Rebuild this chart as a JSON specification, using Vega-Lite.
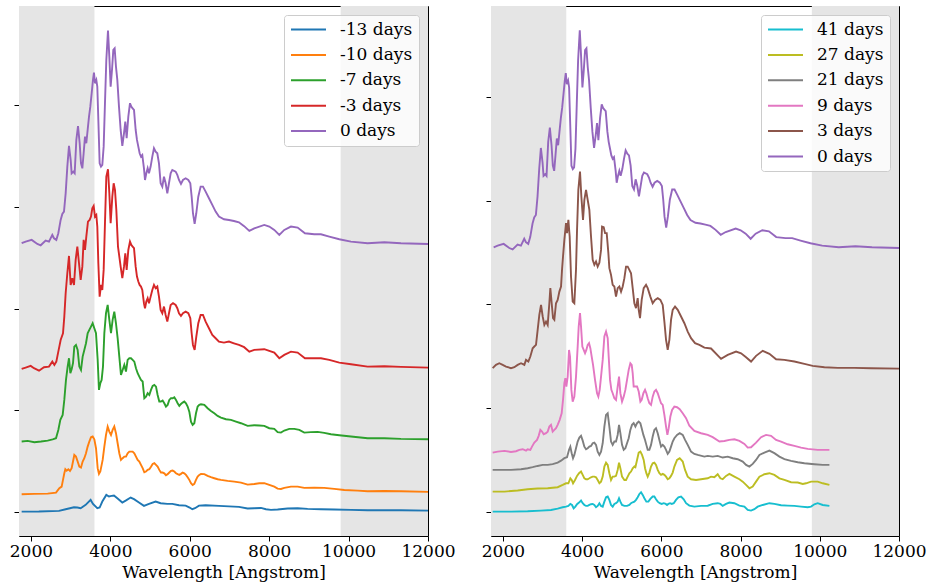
{
"$schema": "https://vega.github.io/schema/vega-lite/v6.json",
"background": "white",
"padding": {"left": 8, "top": 5, "right": 5, "bottom": 5},
"bounds": "flush",
"spacing": 63,
"datasets": {
"bands": [{"a": 1700, "b": 3600}, {"a": 9800, "b": 12000}],
"left": [
{"s":"0 days","w":1767,"f":2.642},{"s":"0 days","w":1868,"f":2.658},{"s":"0 days","w":2019,"f":2.675},{"s":"0 days","w":2162,"f":2.635},{"s":"0 days","w":2246,"f":2.622},{"s":"0 days","w":2371,"f":2.668},{"s":"0 days","w":2455,"f":2.658},{"s":"0 days","w":2539,"f":2.724},{"s":"0 days","w":2581,"f":2.691},{"s":"0 days","w":2640,"f":2.675},{"s":"0 days","w":2690,"f":2.740},{"s":"0 days","w":2749,"f":2.871},{"s":"0 days","w":2791,"f":2.930},{"s":"0 days","w":2833,"f":2.953},{"s":"0 days","w":2875,"f":3.133},{"s":"0 days","w":2917,"f":3.396},{"s":"0 days","w":2959,"f":3.599},{"s":"0 days","w":3001,"f":3.461},{"s":"0 days","w":3026,"f":3.330},{"s":"0 days","w":3068,"f":3.346},{"s":"0 days","w":3102,"f":3.330},{"s":"0 days","w":3144,"f":3.658},{"s":"0 days","w":3186,"f":3.795},{"s":"0 days","w":3228,"f":3.625},{"s":"0 days","w":3261,"f":3.428},{"s":"0 days","w":3295,"f":3.379},{"s":"0 days","w":3328,"f":3.527},{"s":"0 days","w":3362,"f":3.690},{"s":"0 days","w":3395,"f":3.625},{"s":"0 days","w":3429,"f":3.756},{"s":"0 days","w":3463,"f":3.887},{"s":"0 days","w":3496,"f":3.985},{"s":"0 days","w":3530,"f":4.117},{"s":"0 days","w":3563,"f":4.248},{"s":"0 days","w":3588,"f":4.320},{"s":"0 days","w":3614,"f":4.215},{"s":"0 days","w":3647,"f":4.248},{"s":"0 days","w":3672,"f":4.182},{"s":"0 days","w":3698,"f":3.854},{"s":"0 days","w":3731,"f":3.428},{"s":"0 days","w":3765,"f":3.396},{"s":"0 days","w":3798,"f":3.412},{"s":"0 days","w":3832,"f":3.592},{"s":"0 days","w":3865,"f":4.019},{"s":"0 days","w":3899,"f":4.444},{"s":"0 days","w":3941,"f":4.733},{"s":"0 days","w":3975,"f":4.477},{"s":"0 days","w":4008,"f":4.182},{"s":"0 days","w":4042,"f":4.346},{"s":"0 days","w":4075,"f":4.543},{"s":"0 days","w":4109,"f":4.559},{"s":"0 days","w":4142,"f":4.379},{"s":"0 days","w":4176,"f":4.248},{"s":"0 days","w":4218,"f":3.985},{"s":"0 days","w":4260,"f":3.756},{"s":"0 days","w":4302,"f":3.599},{"s":"0 days","w":4344,"f":3.723},{"s":"0 days","w":4377,"f":3.838},{"s":"0 days","w":4411,"f":3.674},{"s":"0 days","w":4453,"f":3.887},{"s":"0 days","w":4495,"f":4.019},{"s":"0 days","w":4528,"f":3.985},{"s":"0 days","w":4562,"f":3.969},{"s":"0 days","w":4596,"f":3.953},{"s":"0 days","w":4638,"f":3.756},{"s":"0 days","w":4671,"f":3.658},{"s":"0 days","w":4705,"f":3.592},{"s":"0 days","w":4738,"f":3.527},{"s":"0 days","w":4772,"f":3.494},{"s":"0 days","w":4805,"f":3.510},{"s":"0 days","w":4847,"f":3.379},{"s":"0 days","w":4873,"f":3.264},{"s":"0 days","w":4906,"f":3.330},{"s":"0 days","w":4940,"f":3.379},{"s":"0 days","w":4973,"f":3.330},{"s":"0 days","w":5015,"f":3.396},{"s":"0 days","w":5057,"f":3.494},{"s":"0 days","w":5099,"f":3.576},{"s":"0 days","w":5141,"f":3.543},{"s":"0 days","w":5183,"f":3.527},{"s":"0 days","w":5225,"f":3.428},{"s":"0 days","w":5267,"f":3.232},{"s":"0 days","w":5309,"f":3.199},{"s":"0 days","w":5351,"f":3.297},{"s":"0 days","w":5393,"f":3.232},{"s":"0 days","w":5435,"f":3.133},{"s":"0 days","w":5477,"f":3.232},{"s":"0 days","w":5519,"f":3.330},{"s":"0 days","w":5561,"f":3.363},{"s":"0 days","w":5645,"f":3.346},{"s":"0 days","w":5687,"f":3.314},{"s":"0 days","w":5729,"f":3.264},{"s":"0 days","w":5779,"f":3.225},{"s":"0 days","w":5829,"f":3.264},{"s":"0 days","w":5897,"f":3.281},{"s":"0 days","w":5964,"f":3.264},{"s":"0 days","w":6014,"f":3.232},{"s":"0 days","w":6048,"f":3.100},{"s":"0 days","w":6081,"f":2.937},{"s":"0 days","w":6123,"f":2.832},{"s":"0 days","w":6165,"f":2.937},{"s":"0 days","w":6215,"f":3.100},{"s":"0 days","w":6274,"f":3.199},{"s":"0 days","w":6333,"f":3.199},{"s":"0 days","w":6400,"f":3.150},{"s":"0 days","w":6484,"f":3.084},{"s":"0 days","w":6568,"f":3.019},{"s":"0 days","w":6652,"f":2.953},{"s":"0 days","w":6736,"f":2.904},{"s":"0 days","w":6862,"f":2.878},{"s":"0 days","w":6988,"f":2.871},{"s":"0 days","w":7113,"f":2.861},{"s":"0 days","w":7239,"f":2.848},{"s":"0 days","w":7370,"f":2.810},{"s":"0 days","w":7500,"f":2.763},{"s":"0 days","w":7625,"f":2.789},{"s":"0 days","w":7877,"f":2.822},{"s":"0 days","w":8003,"f":2.806},{"s":"0 days","w":8129,"f":2.773},{"s":"0 days","w":8255,"f":2.724},{"s":"0 days","w":8381,"f":2.773},{"s":"0 days","w":8549,"f":2.806},{"s":"0 days","w":8717,"f":2.796},{"s":"0 days","w":8901,"f":2.740},{"s":"0 days","w":9136,"f":2.730},{"s":"0 days","w":9304,"f":2.730},{"s":"0 days","w":9514,"f":2.707},{"s":"0 days","w":9766,"f":2.681},{"s":"0 days","w":10060,"f":2.658},{"s":"0 days","w":10479,"f":2.642},{"s":"0 days","w":10899,"f":2.652},{"s":"0 days","w":11319,"f":2.642},{"s":"0 days","w":12000,"f":2.635},
{"s":"-3 days","w":1767,"f":1.406},{"s":"-3 days","w":1868,"f":1.419},{"s":"-3 days","w":1994,"f":1.436},{"s":"-3 days","w":2078,"f":1.413},{"s":"-3 days","w":2204,"f":1.389},{"s":"-3 days","w":2329,"f":1.423},{"s":"-3 days","w":2455,"f":1.429},{"s":"-3 days","w":2539,"f":1.478},{"s":"-3 days","w":2590,"f":1.445},{"s":"-3 days","w":2640,"f":1.478},{"s":"-3 days","w":2690,"f":1.576},{"s":"-3 days","w":2749,"f":1.691},{"s":"-3 days","w":2808,"f":1.757},{"s":"-3 days","w":2841,"f":1.920},{"s":"-3 days","w":2875,"f":2.150},{"s":"-3 days","w":2917,"f":2.347},{"s":"-3 days","w":2959,"f":2.517},{"s":"-3 days","w":3001,"f":2.232},{"s":"-3 days","w":3043,"f":2.298},{"s":"-3 days","w":3085,"f":2.232},{"s":"-3 days","w":3127,"f":2.478},{"s":"-3 days","w":3169,"f":2.609},{"s":"-3 days","w":3211,"f":2.445},{"s":"-3 days","w":3253,"f":2.281},{"s":"-3 days","w":3295,"f":2.412},{"s":"-3 days","w":3328,"f":2.675},{"s":"-3 days","w":3362,"f":2.576},{"s":"-3 days","w":3395,"f":2.707},{"s":"-3 days","w":3437,"f":2.855},{"s":"-3 days","w":3479,"f":2.871},{"s":"-3 days","w":3513,"f":2.904},{"s":"-3 days","w":3546,"f":2.986},{"s":"-3 days","w":3580,"f":3.009},{"s":"-3 days","w":3614,"f":2.904},{"s":"-3 days","w":3647,"f":2.920},{"s":"-3 days","w":3672,"f":2.806},{"s":"-3 days","w":3698,"f":2.445},{"s":"-3 days","w":3731,"f":2.117},{"s":"-3 days","w":3765,"f":2.232},{"s":"-3 days","w":3798,"f":2.183},{"s":"-3 days","w":3832,"f":2.380},{"s":"-3 days","w":3865,"f":2.839},{"s":"-3 days","w":3899,"f":3.297},{"s":"-3 days","w":3941,"f":3.370},{"s":"-3 days","w":3975,"f":3.133},{"s":"-3 days","w":4008,"f":2.839},{"s":"-3 days","w":4050,"f":3.100},{"s":"-3 days","w":4084,"f":3.232},{"s":"-3 days","w":4117,"f":3.166},{"s":"-3 days","w":4151,"f":2.970},{"s":"-3 days","w":4193,"f":2.609},{"s":"-3 days","w":4260,"f":2.412},{"s":"-3 days","w":4302,"f":2.298},{"s":"-3 days","w":4344,"f":2.412},{"s":"-3 days","w":4377,"f":2.543},{"s":"-3 days","w":4411,"f":2.380},{"s":"-3 days","w":4453,"f":2.576},{"s":"-3 days","w":4495,"f":2.658},{"s":"-3 days","w":4528,"f":2.625},{"s":"-3 days","w":4562,"f":2.609},{"s":"-3 days","w":4596,"f":2.593},{"s":"-3 days","w":4638,"f":2.412},{"s":"-3 days","w":4671,"f":2.314},{"s":"-3 days","w":4705,"f":2.265},{"s":"-3 days","w":4738,"f":2.232},{"s":"-3 days","w":4772,"f":2.216},{"s":"-3 days","w":4805,"f":2.183},{"s":"-3 days","w":4847,"f":2.052},{"s":"-3 days","w":4873,"f":2.003},{"s":"-3 days","w":4906,"f":2.068},{"s":"-3 days","w":4940,"f":2.101},{"s":"-3 days","w":4973,"f":2.052},{"s":"-3 days","w":5015,"f":2.117},{"s":"-3 days","w":5057,"f":2.183},{"s":"-3 days","w":5099,"f":2.232},{"s":"-3 days","w":5141,"f":2.200},{"s":"-3 days","w":5183,"f":2.216},{"s":"-3 days","w":5225,"f":2.117},{"s":"-3 days","w":5267,"f":1.986},{"s":"-3 days","w":5309,"f":1.954},{"s":"-3 days","w":5351,"f":2.019},{"s":"-3 days","w":5393,"f":1.937},{"s":"-3 days","w":5435,"f":1.871},{"s":"-3 days","w":5477,"f":1.954},{"s":"-3 days","w":5519,"f":2.035},{"s":"-3 days","w":5578,"f":2.052},{"s":"-3 days","w":5645,"f":2.035},{"s":"-3 days","w":5687,"f":2.003},{"s":"-3 days","w":5729,"f":1.954},{"s":"-3 days","w":5779,"f":1.927},{"s":"-3 days","w":5829,"f":1.954},{"s":"-3 days","w":5897,"f":1.970},{"s":"-3 days","w":5964,"f":1.954},{"s":"-3 days","w":6014,"f":1.905},{"s":"-3 days","w":6048,"f":1.757},{"s":"-3 days","w":6081,"f":1.642},{"s":"-3 days","w":6123,"f":1.593},{"s":"-3 days","w":6165,"f":1.724},{"s":"-3 days","w":6215,"f":1.855},{"s":"-3 days","w":6274,"f":1.937},{"s":"-3 days","w":6333,"f":1.937},{"s":"-3 days","w":6400,"f":1.871},{"s":"-3 days","w":6484,"f":1.806},{"s":"-3 days","w":6568,"f":1.740},{"s":"-3 days","w":6652,"f":1.708},{"s":"-3 days","w":6736,"f":1.675},{"s":"-3 days","w":6862,"f":1.665},{"s":"-3 days","w":6988,"f":1.675},{"s":"-3 days","w":7113,"f":1.658},{"s":"-3 days","w":7239,"f":1.642},{"s":"-3 days","w":7370,"f":1.620},{"s":"-3 days","w":7500,"f":1.576},{"s":"-3 days","w":7625,"f":1.593},{"s":"-3 days","w":7877,"f":1.600},{"s":"-3 days","w":8003,"f":1.583},{"s":"-3 days","w":8129,"f":1.567},{"s":"-3 days","w":8255,"f":1.511},{"s":"-3 days","w":8381,"f":1.544},{"s":"-3 days","w":8549,"f":1.576},{"s":"-3 days","w":8717,"f":1.567},{"s":"-3 days","w":8901,"f":1.511},{"s":"-3 days","w":9136,"f":1.511},{"s":"-3 days","w":9304,"f":1.511},{"s":"-3 days","w":9514,"f":1.495},{"s":"-3 days","w":9766,"f":1.468},{"s":"-3 days","w":10060,"f":1.452},{"s":"-3 days","w":10479,"f":1.429},{"s":"-3 days","w":10899,"f":1.432},{"s":"-3 days","w":11319,"f":1.426},{"s":"-3 days","w":12000,"f":1.419},
{"s":"-7 days","w":1767,"f":0.692},{"s":"-7 days","w":1918,"f":0.698},{"s":"-7 days","w":2086,"f":0.685},{"s":"-7 days","w":2254,"f":0.692},{"s":"-7 days","w":2422,"f":0.701},{"s":"-7 days","w":2548,"f":0.714},{"s":"-7 days","w":2632,"f":0.724},{"s":"-7 days","w":2690,"f":0.806},{"s":"-7 days","w":2741,"f":0.905},{"s":"-7 days","w":2800,"f":0.954},{"s":"-7 days","w":2841,"f":1.101},{"s":"-7 days","w":2883,"f":1.298},{"s":"-7 days","w":2925,"f":1.429},{"s":"-7 days","w":2959,"f":1.511},{"s":"-7 days","w":2993,"f":1.364},{"s":"-7 days","w":3026,"f":1.403},{"s":"-7 days","w":3060,"f":1.462},{"s":"-7 days","w":3093,"f":1.625},{"s":"-7 days","w":3135,"f":1.642},{"s":"-7 days","w":3177,"f":1.593},{"s":"-7 days","w":3219,"f":1.429},{"s":"-7 days","w":3261,"f":1.396},{"s":"-7 days","w":3303,"f":1.527},{"s":"-7 days","w":3345,"f":1.593},{"s":"-7 days","w":3387,"f":1.659},{"s":"-7 days","w":3429,"f":1.757},{"s":"-7 days","w":3471,"f":1.790},{"s":"-7 days","w":3513,"f":1.822},{"s":"-7 days","w":3555,"f":1.855},{"s":"-7 days","w":3597,"f":1.806},{"s":"-7 days","w":3639,"f":1.757},{"s":"-7 days","w":3681,"f":1.495},{"s":"-7 days","w":3714,"f":1.200},{"s":"-7 days","w":3748,"f":1.265},{"s":"-7 days","w":3781,"f":1.298},{"s":"-7 days","w":3815,"f":1.429},{"s":"-7 days","w":3849,"f":1.757},{"s":"-7 days","w":3891,"f":1.954},{"s":"-7 days","w":3933,"f":2.035},{"s":"-7 days","w":3975,"f":1.888},{"s":"-7 days","w":4017,"f":1.757},{"s":"-7 days","w":4058,"f":1.888},{"s":"-7 days","w":4100,"f":1.970},{"s":"-7 days","w":4142,"f":1.855},{"s":"-7 days","w":4184,"f":1.708},{"s":"-7 days","w":4226,"f":1.527},{"s":"-7 days","w":4268,"f":1.347},{"s":"-7 days","w":4310,"f":1.396},{"s":"-7 days","w":4352,"f":1.445},{"s":"-7 days","w":4394,"f":1.380},{"s":"-7 days","w":4436,"f":1.495},{"s":"-7 days","w":4478,"f":1.511},{"s":"-7 days","w":4520,"f":1.511},{"s":"-7 days","w":4562,"f":1.495},{"s":"-7 days","w":4604,"f":1.478},{"s":"-7 days","w":4646,"f":1.413},{"s":"-7 days","w":4688,"f":1.364},{"s":"-7 days","w":4730,"f":1.331},{"s":"-7 days","w":4772,"f":1.298},{"s":"-7 days","w":4814,"f":1.282},{"s":"-7 days","w":4856,"f":1.118},{"s":"-7 days","w":4898,"f":1.134},{"s":"-7 days","w":4940,"f":1.167},{"s":"-7 days","w":4982,"f":1.150},{"s":"-7 days","w":5024,"f":1.200},{"s":"-7 days","w":5066,"f":1.239},{"s":"-7 days","w":5108,"f":1.249},{"s":"-7 days","w":5150,"f":1.232},{"s":"-7 days","w":5191,"f":1.150},{"s":"-7 days","w":5233,"f":1.085},{"s":"-7 days","w":5275,"f":1.085},{"s":"-7 days","w":5317,"f":1.095},{"s":"-7 days","w":5359,"f":1.068},{"s":"-7 days","w":5401,"f":1.036},{"s":"-7 days","w":5443,"f":1.052},{"s":"-7 days","w":5485,"f":1.101},{"s":"-7 days","w":5527,"f":1.118},{"s":"-7 days","w":5569,"f":1.118},{"s":"-7 days","w":5611,"f":1.127},{"s":"-7 days","w":5653,"f":1.101},{"s":"-7 days","w":5695,"f":1.068},{"s":"-7 days","w":5737,"f":1.042},{"s":"-7 days","w":5779,"f":1.062},{"s":"-7 days","w":5821,"f":1.075},{"s":"-7 days","w":5863,"f":1.085},{"s":"-7 days","w":5905,"f":1.068},{"s":"-7 days","w":5947,"f":1.036},{"s":"-7 days","w":5989,"f":0.986},{"s":"-7 days","w":6031,"f":0.888},{"s":"-7 days","w":6073,"f":0.855},{"s":"-7 days","w":6115,"f":0.872},{"s":"-7 days","w":6157,"f":0.970},{"s":"-7 days","w":6199,"f":1.036},{"s":"-7 days","w":6241,"f":1.052},{"s":"-7 days","w":6283,"f":1.059},{"s":"-7 days","w":6367,"f":1.052},{"s":"-7 days","w":6450,"f":1.019},{"s":"-7 days","w":6534,"f":0.993},{"s":"-7 days","w":6618,"f":0.970},{"s":"-7 days","w":6702,"f":0.944},{"s":"-7 days","w":6786,"f":0.928},{"s":"-7 days","w":6912,"f":0.911},{"s":"-7 days","w":7038,"f":0.905},{"s":"-7 days","w":7164,"f":0.888},{"s":"-7 days","w":7290,"f":0.872},{"s":"-7 days","w":7458,"f":0.846},{"s":"-7 days","w":7625,"f":0.852},{"s":"-7 days","w":7751,"f":0.849},{"s":"-7 days","w":7877,"f":0.846},{"s":"-7 days","w":8003,"f":0.823},{"s":"-7 days","w":8129,"f":0.816},{"s":"-7 days","w":8213,"f":0.784},{"s":"-7 days","w":8297,"f":0.780},{"s":"-7 days","w":8381,"f":0.800},{"s":"-7 days","w":8507,"f":0.816},{"s":"-7 days","w":8633,"f":0.816},{"s":"-7 days","w":8759,"f":0.806},{"s":"-7 days","w":8884,"f":0.780},{"s":"-7 days","w":9052,"f":0.784},{"s":"-7 days","w":9220,"f":0.787},{"s":"-7 days","w":9388,"f":0.777},{"s":"-7 days","w":9556,"f":0.764},{"s":"-7 days","w":9766,"f":0.754},{"s":"-7 days","w":10060,"f":0.741},{"s":"-7 days","w":10479,"f":0.724},{"s":"-7 days","w":10899,"f":0.724},{"s":"-7 days","w":11319,"f":0.718},{"s":"-7 days","w":12000,"f":0.715},
{"s":"-10 days","w":1767,"f":0.174},{"s":"-10 days","w":2086,"f":0.177},{"s":"-10 days","w":2422,"f":0.180},{"s":"-10 days","w":2632,"f":0.190},{"s":"-10 days","w":2716,"f":0.233},{"s":"-10 days","w":2774,"f":0.249},{"s":"-10 days","w":2808,"f":0.315},{"s":"-10 days","w":2841,"f":0.380},{"s":"-10 days","w":2867,"f":0.420},{"s":"-10 days","w":2900,"f":0.406},{"s":"-10 days","w":2942,"f":0.420},{"s":"-10 days","w":2984,"f":0.403},{"s":"-10 days","w":3026,"f":0.430},{"s":"-10 days","w":3060,"f":0.495},{"s":"-10 days","w":3093,"f":0.560},{"s":"-10 days","w":3135,"f":0.544},{"s":"-10 days","w":3177,"f":0.495},{"s":"-10 days","w":3219,"f":0.445},{"s":"-10 days","w":3261,"f":0.436},{"s":"-10 days","w":3303,"f":0.495},{"s":"-10 days","w":3345,"f":0.528},{"s":"-10 days","w":3387,"f":0.577},{"s":"-10 days","w":3429,"f":0.642},{"s":"-10 days","w":3471,"f":0.692},{"s":"-10 days","w":3513,"f":0.734},{"s":"-10 days","w":3555,"f":0.741},{"s":"-10 days","w":3597,"f":0.714},{"s":"-10 days","w":3639,"f":0.626},{"s":"-10 days","w":3681,"f":0.430},{"s":"-10 days","w":3714,"f":0.374},{"s":"-10 days","w":3748,"f":0.397},{"s":"-10 days","w":3807,"f":0.511},{"s":"-10 days","w":3849,"f":0.642},{"s":"-10 days","w":3891,"f":0.757},{"s":"-10 days","w":3933,"f":0.839},{"s":"-10 days","w":3975,"f":0.790},{"s":"-10 days","w":4017,"f":0.757},{"s":"-10 days","w":4058,"f":0.806},{"s":"-10 days","w":4100,"f":0.839},{"s":"-10 days","w":4142,"f":0.774},{"s":"-10 days","w":4184,"f":0.675},{"s":"-10 days","w":4226,"f":0.577},{"s":"-10 days","w":4268,"f":0.511},{"s":"-10 days","w":4310,"f":0.528},{"s":"-10 days","w":4352,"f":0.544},{"s":"-10 days","w":4394,"f":0.544},{"s":"-10 days","w":4436,"f":0.577},{"s":"-10 days","w":4478,"f":0.593},{"s":"-10 days","w":4520,"f":0.593},{"s":"-10 days","w":4562,"f":0.593},{"s":"-10 days","w":4604,"f":0.577},{"s":"-10 days","w":4646,"f":0.544},{"s":"-10 days","w":4688,"f":0.511},{"s":"-10 days","w":4730,"f":0.495},{"s":"-10 days","w":4772,"f":0.462},{"s":"-10 days","w":4814,"f":0.430},{"s":"-10 days","w":4856,"f":0.390},{"s":"-10 days","w":4898,"f":0.397},{"s":"-10 days","w":4940,"f":0.413},{"s":"-10 days","w":4982,"f":0.420},{"s":"-10 days","w":5024,"f":0.445},{"s":"-10 days","w":5066,"f":0.472},{"s":"-10 days","w":5108,"f":0.479},{"s":"-10 days","w":5150,"f":0.462},{"s":"-10 days","w":5191,"f":0.445},{"s":"-10 days","w":5233,"f":0.413},{"s":"-10 days","w":5275,"f":0.387},{"s":"-10 days","w":5317,"f":0.387},{"s":"-10 days","w":5359,"f":0.380},{"s":"-10 days","w":5401,"f":0.361},{"s":"-10 days","w":5443,"f":0.371},{"s":"-10 days","w":5485,"f":0.387},{"s":"-10 days","w":5527,"f":0.403},{"s":"-10 days","w":5569,"f":0.406},{"s":"-10 days","w":5611,"f":0.397},{"s":"-10 days","w":5653,"f":0.380},{"s":"-10 days","w":5695,"f":0.371},{"s":"-10 days","w":5737,"f":0.364},{"s":"-10 days","w":5779,"f":0.374},{"s":"-10 days","w":5821,"f":0.387},{"s":"-10 days","w":5863,"f":0.380},{"s":"-10 days","w":5905,"f":0.364},{"s":"-10 days","w":5947,"f":0.341},{"s":"-10 days","w":5989,"f":0.315},{"s":"-10 days","w":6031,"f":0.282},{"s":"-10 days","w":6073,"f":0.265},{"s":"-10 days","w":6115,"f":0.275},{"s":"-10 days","w":6157,"f":0.315},{"s":"-10 days","w":6199,"f":0.347},{"s":"-10 days","w":6241,"f":0.364},{"s":"-10 days","w":6283,"f":0.374},{"s":"-10 days","w":6367,"f":0.371},{"s":"-10 days","w":6450,"f":0.354},{"s":"-10 days","w":6534,"f":0.341},{"s":"-10 days","w":6618,"f":0.331},{"s":"-10 days","w":6702,"f":0.321},{"s":"-10 days","w":6786,"f":0.315},{"s":"-10 days","w":6954,"f":0.305},{"s":"-10 days","w":7122,"f":0.298},{"s":"-10 days","w":7290,"f":0.288},{"s":"-10 days","w":7458,"f":0.268},{"s":"-10 days","w":7625,"f":0.275},{"s":"-10 days","w":7751,"f":0.282},{"s":"-10 days","w":7877,"f":0.282},{"s":"-10 days","w":8003,"f":0.265},{"s":"-10 days","w":8129,"f":0.249},{"s":"-10 days","w":8213,"f":0.229},{"s":"-10 days","w":8297,"f":0.226},{"s":"-10 days","w":8381,"f":0.236},{"s":"-10 days","w":8549,"f":0.249},{"s":"-10 days","w":8717,"f":0.249},{"s":"-10 days","w":8884,"f":0.236},{"s":"-10 days","w":9136,"f":0.239},{"s":"-10 days","w":9388,"f":0.236},{"s":"-10 days","w":9640,"f":0.226},{"s":"-10 days","w":9892,"f":0.216},{"s":"-10 days","w":10227,"f":0.209},{"s":"-10 days","w":10479,"f":0.203},{"s":"-10 days","w":10899,"f":0.206},{"s":"-10 days","w":11319,"f":0.203},{"s":"-10 days","w":12000,"f":0.197},
{"s":"-13 days","w":1767,"f":0.003},{"s":"-13 days","w":2200,"f":0.004},{"s":"-13 days","w":2707,"f":0.010},{"s":"-13 days","w":2875,"f":0.026},{"s":"-13 days","w":3085,"f":0.046},{"s":"-13 days","w":3169,"f":0.043},{"s":"-13 days","w":3253,"f":0.036},{"s":"-13 days","w":3379,"f":0.069},{"s":"-13 days","w":3504,"f":0.118},{"s":"-13 days","w":3563,"f":0.079},{"s":"-13 days","w":3672,"f":0.036},{"s":"-13 days","w":3731,"f":0.043},{"s":"-13 days","w":3798,"f":0.102},{"s":"-13 days","w":3899,"f":0.167},{"s":"-13 days","w":3966,"f":0.151},{"s":"-13 days","w":4033,"f":0.157},{"s":"-13 days","w":4092,"f":0.161},{"s":"-13 days","w":4176,"f":0.134},{"s":"-13 days","w":4302,"f":0.092},{"s":"-13 days","w":4386,"f":0.111},{"s":"-13 days","w":4512,"f":0.141},{"s":"-13 days","w":4596,"f":0.125},{"s":"-13 days","w":4721,"f":0.092},{"s":"-13 days","w":4847,"f":0.059},{"s":"-13 days","w":4973,"f":0.079},{"s":"-13 days","w":5141,"f":0.102},{"s":"-13 days","w":5267,"f":0.085},{"s":"-13 days","w":5435,"f":0.079},{"s":"-13 days","w":5561,"f":0.079},{"s":"-13 days","w":5729,"f":0.066},{"s":"-13 days","w":5897,"f":0.062},{"s":"-13 days","w":5997,"f":0.043},{"s":"-13 days","w":6064,"f":0.026},{"s":"-13 days","w":6132,"f":0.036},{"s":"-13 days","w":6232,"f":0.062},{"s":"-13 days","w":6400,"f":0.066},{"s":"-13 days","w":6736,"f":0.059},{"s":"-13 days","w":7239,"f":0.049},{"s":"-13 days","w":7458,"f":0.033},{"s":"-13 days","w":7625,"f":0.036},{"s":"-13 days","w":7793,"f":0.039},{"s":"-13 days","w":7919,"f":0.026},{"s":"-13 days","w":8045,"f":0.020},{"s":"-13 days","w":8213,"f":0.023},{"s":"-13 days","w":8465,"f":0.033},{"s":"-13 days","w":8717,"f":0.036},{"s":"-13 days","w":8968,"f":0.030},{"s":"-13 days","w":9304,"f":0.026},{"s":"-13 days","w":9640,"f":0.023},{"s":"-13 days","w":10060,"f":0.020},{"s":"-13 days","w":10479,"f":0.016},{"s":"-13 days","w":11319,"f":0.016},{"s":"-13 days","w":12000,"f":0.013}
],
"right": [
{"s":"0 days","w":1767,"f":2.550},{"s":"0 days","w":1868,"f":2.566},{"s":"0 days","w":2019,"f":2.583},{"s":"0 days","w":2162,"f":2.543},{"s":"0 days","w":2246,"f":2.530},{"s":"0 days","w":2371,"f":2.576},{"s":"0 days","w":2455,"f":2.566},{"s":"0 days","w":2539,"f":2.632},{"s":"0 days","w":2581,"f":2.599},{"s":"0 days","w":2640,"f":2.583},{"s":"0 days","w":2690,"f":2.648},{"s":"0 days","w":2749,"f":2.779},{"s":"0 days","w":2791,"f":2.838},{"s":"0 days","w":2833,"f":2.861},{"s":"0 days","w":2875,"f":3.041},{"s":"0 days","w":2917,"f":3.304},{"s":"0 days","w":2959,"f":3.507},{"s":"0 days","w":3001,"f":3.369},{"s":"0 days","w":3026,"f":3.238},{"s":"0 days","w":3068,"f":3.254},{"s":"0 days","w":3102,"f":3.238},{"s":"0 days","w":3144,"f":3.566},{"s":"0 days","w":3186,"f":3.703},{"s":"0 days","w":3228,"f":3.533},{"s":"0 days","w":3261,"f":3.336},{"s":"0 days","w":3295,"f":3.287},{"s":"0 days","w":3328,"f":3.435},{"s":"0 days","w":3362,"f":3.598},{"s":"0 days","w":3395,"f":3.533},{"s":"0 days","w":3429,"f":3.664},{"s":"0 days","w":3463,"f":3.795},{"s":"0 days","w":3496,"f":3.893},{"s":"0 days","w":3530,"f":4.025},{"s":"0 days","w":3563,"f":4.156},{"s":"0 days","w":3588,"f":4.228},{"s":"0 days","w":3614,"f":4.123},{"s":"0 days","w":3647,"f":4.156},{"s":"0 days","w":3672,"f":4.090},{"s":"0 days","w":3698,"f":3.762},{"s":"0 days","w":3731,"f":3.336},{"s":"0 days","w":3765,"f":3.304},{"s":"0 days","w":3798,"f":3.320},{"s":"0 days","w":3832,"f":3.500},{"s":"0 days","w":3865,"f":3.927},{"s":"0 days","w":3899,"f":4.352},{"s":"0 days","w":3941,"f":4.641},{"s":"0 days","w":3975,"f":4.385},{"s":"0 days","w":4008,"f":4.090},{"s":"0 days","w":4042,"f":4.254},{"s":"0 days","w":4075,"f":4.451},{"s":"0 days","w":4109,"f":4.467},{"s":"0 days","w":4142,"f":4.287},{"s":"0 days","w":4176,"f":4.156},{"s":"0 days","w":4218,"f":3.893},{"s":"0 days","w":4260,"f":3.664},{"s":"0 days","w":4302,"f":3.507},{"s":"0 days","w":4344,"f":3.631},{"s":"0 days","w":4377,"f":3.746},{"s":"0 days","w":4411,"f":3.582},{"s":"0 days","w":4453,"f":3.795},{"s":"0 days","w":4495,"f":3.927},{"s":"0 days","w":4528,"f":3.893},{"s":"0 days","w":4562,"f":3.877},{"s":"0 days","w":4596,"f":3.861},{"s":"0 days","w":4638,"f":3.664},{"s":"0 days","w":4671,"f":3.566},{"s":"0 days","w":4705,"f":3.500},{"s":"0 days","w":4738,"f":3.435},{"s":"0 days","w":4772,"f":3.402},{"s":"0 days","w":4805,"f":3.418},{"s":"0 days","w":4847,"f":3.287},{"s":"0 days","w":4873,"f":3.172},{"s":"0 days","w":4906,"f":3.238},{"s":"0 days","w":4940,"f":3.287},{"s":"0 days","w":4973,"f":3.238},{"s":"0 days","w":5015,"f":3.304},{"s":"0 days","w":5057,"f":3.402},{"s":"0 days","w":5099,"f":3.484},{"s":"0 days","w":5141,"f":3.451},{"s":"0 days","w":5183,"f":3.435},{"s":"0 days","w":5225,"f":3.336},{"s":"0 days","w":5267,"f":3.140},{"s":"0 days","w":5309,"f":3.107},{"s":"0 days","w":5351,"f":3.205},{"s":"0 days","w":5393,"f":3.140},{"s":"0 days","w":5435,"f":3.041},{"s":"0 days","w":5477,"f":3.140},{"s":"0 days","w":5519,"f":3.238},{"s":"0 days","w":5561,"f":3.271},{"s":"0 days","w":5645,"f":3.254},{"s":"0 days","w":5687,"f":3.222},{"s":"0 days","w":5729,"f":3.172},{"s":"0 days","w":5779,"f":3.133},{"s":"0 days","w":5829,"f":3.172},{"s":"0 days","w":5897,"f":3.189},{"s":"0 days","w":5964,"f":3.172},{"s":"0 days","w":6014,"f":3.140},{"s":"0 days","w":6048,"f":3.008},{"s":"0 days","w":6081,"f":2.845},{"s":"0 days","w":6123,"f":2.740},{"s":"0 days","w":6165,"f":2.845},{"s":"0 days","w":6215,"f":3.008},{"s":"0 days","w":6274,"f":3.107},{"s":"0 days","w":6333,"f":3.107},{"s":"0 days","w":6400,"f":3.058},{"s":"0 days","w":6484,"f":2.992},{"s":"0 days","w":6568,"f":2.927},{"s":"0 days","w":6652,"f":2.861},{"s":"0 days","w":6736,"f":2.812},{"s":"0 days","w":6862,"f":2.786},{"s":"0 days","w":6988,"f":2.779},{"s":"0 days","w":7113,"f":2.769},{"s":"0 days","w":7239,"f":2.756},{"s":"0 days","w":7370,"f":2.718},{"s":"0 days","w":7500,"f":2.671},{"s":"0 days","w":7625,"f":2.697},{"s":"0 days","w":7877,"f":2.730},{"s":"0 days","w":8003,"f":2.714},{"s":"0 days","w":8129,"f":2.681},{"s":"0 days","w":8255,"f":2.632},{"s":"0 days","w":8381,"f":2.681},{"s":"0 days","w":8549,"f":2.714},{"s":"0 days","w":8717,"f":2.704},{"s":"0 days","w":8901,"f":2.648},{"s":"0 days","w":9136,"f":2.638},{"s":"0 days","w":9304,"f":2.638},{"s":"0 days","w":9514,"f":2.615},{"s":"0 days","w":9766,"f":2.589},{"s":"0 days","w":10060,"f":2.566},{"s":"0 days","w":10479,"f":2.550},{"s":"0 days","w":10899,"f":2.560},{"s":"0 days","w":11319,"f":2.550},{"s":"0 days","w":12000,"f":2.543},
{"s":"3 days","w":1742,"f":1.385},{"s":"3 days","w":1826,"f":1.417},{"s":"3 days","w":1910,"f":1.433},{"s":"3 days","w":1995,"f":1.417},{"s":"3 days","w":2079,"f":1.401},{"s":"3 days","w":2205,"f":1.385},{"s":"3 days","w":2289,"f":1.394},{"s":"3 days","w":2373,"f":1.417},{"s":"3 days","w":2458,"f":1.433},{"s":"3 days","w":2542,"f":1.417},{"s":"3 days","w":2584,"f":1.465},{"s":"3 days","w":2643,"f":1.449},{"s":"3 days","w":2693,"f":1.497},{"s":"3 days","w":2752,"f":1.577},{"s":"3 days","w":2794,"f":1.594},{"s":"3 days","w":2836,"f":1.610},{"s":"3 days","w":2878,"f":1.754},{"s":"3 days","w":2920,"f":1.899},{"s":"3 days","w":2963,"f":1.995},{"s":"3 days","w":3005,"f":1.883},{"s":"3 days","w":3047,"f":1.802},{"s":"3 days","w":3089,"f":1.834},{"s":"3 days","w":3131,"f":1.802},{"s":"3 days","w":3173,"f":2.011},{"s":"3 days","w":3198,"f":2.156},{"s":"3 days","w":3232,"f":2.011},{"s":"3 days","w":3266,"f":1.867},{"s":"3 days","w":3299,"f":1.851},{"s":"3 days","w":3341,"f":2.011},{"s":"3 days","w":3383,"f":2.043},{"s":"3 days","w":3426,"f":2.123},{"s":"3 days","w":3468,"f":2.172},{"s":"3 days","w":3493,"f":2.333},{"s":"3 days","w":3518,"f":2.461},{"s":"3 days","w":3552,"f":2.622},{"s":"3 days","w":3594,"f":2.783},{"s":"3 days","w":3619,"f":2.686},{"s":"3 days","w":3653,"f":2.814},{"s":"3 days","w":3686,"f":2.654},{"s":"3 days","w":3720,"f":2.268},{"s":"3 days","w":3762,"f":2.027},{"s":"3 days","w":3804,"f":2.011},{"s":"3 days","w":3846,"f":2.333},{"s":"3 days","w":3872,"f":2.718},{"s":"3 days","w":3905,"f":3.104},{"s":"3 days","w":3947,"f":3.280},{"s":"3 days","w":3981,"f":3.039},{"s":"3 days","w":4023,"f":2.814},{"s":"3 days","w":4057,"f":3.007},{"s":"3 days","w":4099,"f":3.104},{"s":"3 days","w":4141,"f":3.007},{"s":"3 days","w":4183,"f":2.911},{"s":"3 days","w":4225,"f":2.654},{"s":"3 days","w":4267,"f":2.429},{"s":"3 days","w":4309,"f":2.381},{"s":"3 days","w":4351,"f":2.413},{"s":"3 days","w":4393,"f":2.364},{"s":"3 days","w":4436,"f":2.400},{"s":"3 days","w":4478,"f":2.525},{"s":"3 days","w":4503,"f":2.750},{"s":"3 days","w":4545,"f":2.744},{"s":"3 days","w":4579,"f":2.686},{"s":"3 days","w":4621,"f":2.686},{"s":"3 days","w":4663,"f":2.493},{"s":"3 days","w":4688,"f":2.349},{"s":"3 days","w":4730,"f":2.284},{"s":"3 days","w":4772,"f":2.188},{"s":"3 days","w":4814,"f":2.172},{"s":"3 days","w":4856,"f":2.075},{"s":"3 days","w":4898,"f":2.156},{"s":"3 days","w":4941,"f":2.172},{"s":"3 days","w":4983,"f":2.123},{"s":"3 days","w":5025,"f":2.172},{"s":"3 days","w":5067,"f":2.252},{"s":"3 days","w":5109,"f":2.364},{"s":"3 days","w":5151,"f":2.364},{"s":"3 days","w":5193,"f":2.333},{"s":"3 days","w":5235,"f":2.300},{"s":"3 days","w":5277,"f":2.156},{"s":"3 days","w":5319,"f":2.011},{"s":"3 days","w":5361,"f":1.963},{"s":"3 days","w":5403,"f":2.060},{"s":"3 days","w":5429,"f":1.947},{"s":"3 days","w":5462,"f":1.867},{"s":"3 days","w":5504,"f":2.043},{"s":"3 days","w":5555,"f":2.156},{"s":"3 days","w":5614,"f":2.188},{"s":"3 days","w":5656,"f":2.156},{"s":"3 days","w":5723,"f":2.075},{"s":"3 days","w":5782,"f":2.011},{"s":"3 days","w":5841,"f":2.043},{"s":"3 days","w":5909,"f":2.060},{"s":"3 days","w":5976,"f":2.043},{"s":"3 days","w":6035,"f":1.995},{"s":"3 days","w":6077,"f":1.834},{"s":"3 days","w":6119,"f":1.658},{"s":"3 days","w":6161,"f":1.561},{"s":"3 days","w":6203,"f":1.658},{"s":"3 days","w":6245,"f":1.851},{"s":"3 days","w":6287,"f":1.947},{"s":"3 days","w":6346,"f":1.979},{"s":"3 days","w":6414,"f":1.947},{"s":"3 days","w":6498,"f":1.883},{"s":"3 days","w":6582,"f":1.818},{"s":"3 days","w":6666,"f":1.738},{"s":"3 days","w":6750,"f":1.674},{"s":"3 days","w":6851,"f":1.626},{"s":"3 days","w":6961,"f":1.610},{"s":"3 days","w":7087,"f":1.583},{"s":"3 days","w":7255,"f":1.575},{"s":"3 days","w":7508,"f":1.475},{"s":"3 days","w":7676,"f":1.513},{"s":"3 days","w":7887,"f":1.545},{"s":"3 days","w":8013,"f":1.529},{"s":"3 days","w":8139,"f":1.491},{"s":"3 days","w":8265,"f":1.449},{"s":"3 days","w":8392,"f":1.504},{"s":"3 days","w":8560,"f":1.552},{"s":"3 days","w":8728,"f":1.523},{"s":"3 days","w":8897,"f":1.471},{"s":"3 days","w":9107,"f":1.465},{"s":"3 days","w":9359,"f":1.449},{"s":"3 days","w":9612,"f":1.427},{"s":"3 days","w":9822,"f":1.407},{"s":"3 days","w":10117,"f":1.394},{"s":"3 days","w":10454,"f":1.388},{"s":"3 days","w":10875,"f":1.388},{"s":"3 days","w":11295,"f":1.385},{"s":"3 days","w":12000,"f":1.381},
{"s":"9 days","w":1742,"f":0.572},{"s":"9 days","w":1868,"f":0.581},{"s":"9 days","w":2037,"f":0.588},{"s":"9 days","w":2205,"f":0.578},{"s":"9 days","w":2331,"f":0.585},{"s":"9 days","w":2415,"f":0.598},{"s":"9 days","w":2500,"f":0.604},{"s":"9 days","w":2584,"f":0.591},{"s":"9 days","w":2626,"f":0.604},{"s":"9 days","w":2693,"f":0.598},{"s":"9 days","w":2735,"f":0.629},{"s":"9 days","w":2794,"f":0.668},{"s":"9 days","w":2862,"f":0.694},{"s":"9 days","w":2904,"f":0.733},{"s":"9 days","w":2946,"f":0.790},{"s":"9 days","w":2988,"f":0.774},{"s":"9 days","w":3030,"f":0.749},{"s":"9 days","w":3089,"f":0.759},{"s":"9 days","w":3131,"f":0.774},{"s":"9 days","w":3173,"f":0.822},{"s":"9 days","w":3215,"f":0.839},{"s":"9 days","w":3257,"f":0.774},{"s":"9 days","w":3299,"f":0.790},{"s":"9 days","w":3341,"f":0.807},{"s":"9 days","w":3383,"f":0.839},{"s":"9 days","w":3434,"f":0.887},{"s":"9 days","w":3484,"f":0.951},{"s":"9 days","w":3518,"f":1.080},{"s":"9 days","w":3552,"f":1.240},{"s":"9 days","w":3577,"f":1.289},{"s":"9 days","w":3602,"f":1.208},{"s":"9 days","w":3636,"f":1.304},{"s":"9 days","w":3670,"f":1.561},{"s":"9 days","w":3695,"f":1.497},{"s":"9 days","w":3729,"f":1.176},{"s":"9 days","w":3762,"f":1.063},{"s":"9 days","w":3804,"f":1.111},{"s":"9 days","w":3846,"f":1.304},{"s":"9 days","w":3888,"f":1.593},{"s":"9 days","w":3914,"f":1.786},{"s":"9 days","w":3947,"f":1.915},{"s":"9 days","w":3973,"f":1.786},{"s":"9 days","w":4006,"f":1.593},{"s":"9 days","w":4040,"f":1.561},{"s":"9 days","w":4074,"f":1.530},{"s":"9 days","w":4107,"f":1.561},{"s":"9 days","w":4141,"f":1.610},{"s":"9 days","w":4175,"f":1.626},{"s":"9 days","w":4208,"f":1.578},{"s":"9 days","w":4242,"f":1.497},{"s":"9 days","w":4276,"f":1.417},{"s":"9 days","w":4326,"f":1.272},{"s":"9 days","w":4377,"f":1.144},{"s":"9 days","w":4410,"f":1.111},{"s":"9 days","w":4444,"f":1.176},{"s":"9 days","w":4478,"f":1.304},{"s":"9 days","w":4520,"f":1.465},{"s":"9 days","w":4562,"f":1.690},{"s":"9 days","w":4604,"f":1.738},{"s":"9 days","w":4646,"f":1.674},{"s":"9 days","w":4671,"f":1.497},{"s":"9 days","w":4705,"f":1.272},{"s":"9 days","w":4739,"f":1.176},{"s":"9 days","w":4772,"f":1.144},{"s":"9 days","w":4814,"f":1.096},{"s":"9 days","w":4856,"f":1.080},{"s":"9 days","w":4898,"f":1.208},{"s":"9 days","w":4932,"f":1.304},{"s":"9 days","w":4966,"f":1.144},{"s":"9 days","w":5008,"f":1.063},{"s":"9 days","w":5050,"f":1.111},{"s":"9 days","w":5092,"f":1.176},{"s":"9 days","w":5134,"f":1.272},{"s":"9 days","w":5176,"f":1.369},{"s":"9 days","w":5218,"f":1.433},{"s":"9 days","w":5252,"f":1.417},{"s":"9 days","w":5277,"f":1.337},{"s":"9 days","w":5302,"f":1.208},{"s":"9 days","w":5345,"f":1.208},{"s":"9 days","w":5387,"f":1.208},{"s":"9 days","w":5429,"f":1.160},{"s":"9 days","w":5471,"f":1.063},{"s":"9 days","w":5504,"f":1.080},{"s":"9 days","w":5547,"f":1.144},{"s":"9 days","w":5589,"f":1.176},{"s":"9 days","w":5622,"f":1.144},{"s":"9 days","w":5656,"f":1.096},{"s":"9 days","w":5698,"f":1.047},{"s":"9 days","w":5740,"f":1.031},{"s":"9 days","w":5782,"f":1.111},{"s":"9 days","w":5824,"f":1.160},{"s":"9 days","w":5866,"f":1.176},{"s":"9 days","w":5909,"f":1.144},{"s":"9 days","w":5951,"f":1.096},{"s":"9 days","w":5993,"f":1.047},{"s":"9 days","w":6035,"f":1.031},{"s":"9 days","w":6077,"f":0.935},{"s":"9 days","w":6119,"f":0.822},{"s":"9 days","w":6153,"f":0.742},{"s":"9 days","w":6186,"f":0.807},{"s":"9 days","w":6228,"f":0.919},{"s":"9 days","w":6271,"f":0.983},{"s":"9 days","w":6329,"f":1.015},{"s":"9 days","w":6397,"f":1.009},{"s":"9 days","w":6464,"f":0.990},{"s":"9 days","w":6540,"f":0.951},{"s":"9 days","w":6624,"f":0.903},{"s":"9 days","w":6708,"f":0.830},{"s":"9 days","w":6834,"f":0.781},{"s":"9 days","w":7003,"f":0.758},{"s":"9 days","w":7171,"f":0.742},{"s":"9 days","w":7297,"f":0.720},{"s":"9 days","w":7466,"f":0.678},{"s":"9 days","w":7592,"f":0.684},{"s":"9 days","w":7718,"f":0.694},{"s":"9 days","w":7844,"f":0.700},{"s":"9 days","w":7971,"f":0.684},{"s":"9 days","w":8097,"f":0.655},{"s":"9 days","w":8181,"f":0.620},{"s":"9 days","w":8265,"f":0.623},{"s":"9 days","w":8391,"f":0.668},{"s":"9 days","w":8518,"f":0.720},{"s":"9 days","w":8644,"f":0.742},{"s":"9 days","w":8770,"f":0.733},{"s":"9 days","w":8896,"f":0.694},{"s":"9 days","w":9023,"f":0.678},{"s":"9 days","w":9191,"f":0.652},{"s":"9 days","w":9359,"f":0.636},{"s":"9 days","w":9528,"f":0.620},{"s":"9 days","w":9696,"f":0.607},{"s":"9 days","w":9948,"f":0.598},{"s":"9 days","w":10243,"f":0.598},
{"s":"21 days","w":1742,"f":0.405},{"s":"21 days","w":1953,"f":0.405},{"s":"21 days","w":2205,"f":0.405},{"s":"21 days","w":2458,"f":0.411},{"s":"21 days","w":2626,"f":0.421},{"s":"21 days","w":2752,"f":0.431},{"s":"21 days","w":2878,"f":0.443},{"s":"21 days","w":3005,"f":0.453},{"s":"21 days","w":3131,"f":0.453},{"s":"21 days","w":3257,"f":0.460},{"s":"21 days","w":3383,"f":0.475},{"s":"21 days","w":3468,"f":0.494},{"s":"21 days","w":3552,"f":0.518},{"s":"21 days","w":3619,"f":0.527},{"s":"21 days","w":3670,"f":0.598},{"s":"21 days","w":3703,"f":0.629},{"s":"21 days","w":3737,"f":0.566},{"s":"21 days","w":3771,"f":0.518},{"s":"21 days","w":3804,"f":0.549},{"s":"21 days","w":3846,"f":0.614},{"s":"21 days","w":3888,"f":0.678},{"s":"21 days","w":3931,"f":0.716},{"s":"21 days","w":3973,"f":0.733},{"s":"21 days","w":4015,"f":0.687},{"s":"21 days","w":4057,"f":0.629},{"s":"21 days","w":4099,"f":0.604},{"s":"21 days","w":4141,"f":0.614},{"s":"21 days","w":4183,"f":0.629},{"s":"21 days","w":4225,"f":0.636},{"s":"21 days","w":4267,"f":0.662},{"s":"21 days","w":4309,"f":0.668},{"s":"21 days","w":4351,"f":0.646},{"s":"21 days","w":4393,"f":0.581},{"s":"21 days","w":4436,"f":0.549},{"s":"21 days","w":4478,"f":0.581},{"s":"21 days","w":4520,"f":0.662},{"s":"21 days","w":4562,"f":0.822},{"s":"21 days","w":4604,"f":0.935},{"s":"21 days","w":4646,"f":0.951},{"s":"21 days","w":4688,"f":0.822},{"s":"21 days","w":4730,"f":0.678},{"s":"21 days","w":4772,"f":0.646},{"s":"21 days","w":4814,"f":0.678},{"s":"21 days","w":4856,"f":0.678},{"s":"21 days","w":4898,"f":0.742},{"s":"21 days","w":4932,"f":0.839},{"s":"21 days","w":4966,"f":0.759},{"s":"21 days","w":5008,"f":0.646},{"s":"21 days","w":5050,"f":0.598},{"s":"21 days","w":5092,"f":0.614},{"s":"21 days","w":5134,"f":0.662},{"s":"21 days","w":5176,"f":0.710},{"s":"21 days","w":5218,"f":0.790},{"s":"21 days","w":5260,"f":0.839},{"s":"21 days","w":5302,"f":0.855},{"s":"21 days","w":5345,"f":0.822},{"s":"21 days","w":5387,"f":0.855},{"s":"21 days","w":5429,"f":0.870},{"s":"21 days","w":5471,"f":0.855},{"s":"21 days","w":5504,"f":0.807},{"s":"21 days","w":5547,"f":0.742},{"s":"21 days","w":5589,"f":0.694},{"s":"21 days","w":5622,"f":0.646},{"s":"21 days","w":5656,"f":0.598},{"s":"21 days","w":5698,"f":0.598},{"s":"21 days","w":5740,"f":0.646},{"s":"21 days","w":5782,"f":0.726},{"s":"21 days","w":5824,"f":0.790},{"s":"21 days","w":5866,"f":0.807},{"s":"21 days","w":5909,"f":0.759},{"s":"21 days","w":5951,"f":0.694},{"s":"21 days","w":5993,"f":0.629},{"s":"21 days","w":6035,"f":0.646},{"s":"21 days","w":6077,"f":0.629},{"s":"21 days","w":6119,"f":0.598},{"s":"21 days","w":6161,"f":0.559},{"s":"21 days","w":6203,"f":0.581},{"s":"21 days","w":6245,"f":0.629},{"s":"21 days","w":6287,"f":0.678},{"s":"21 days","w":6329,"f":0.710},{"s":"21 days","w":6397,"f":0.742},{"s":"21 days","w":6464,"f":0.759},{"s":"21 days","w":6540,"f":0.742},{"s":"21 days","w":6599,"f":0.694},{"s":"21 days","w":6666,"f":0.646},{"s":"21 days","w":6750,"f":0.581},{"s":"21 days","w":6834,"f":0.559},{"s":"21 days","w":6919,"f":0.549},{"s":"21 days","w":7087,"f":0.533},{"s":"21 days","w":7171,"f":0.540},{"s":"21 days","w":7297,"f":0.533},{"s":"21 days","w":7423,"f":0.540},{"s":"21 days","w":7550,"f":0.524},{"s":"21 days","w":7676,"f":0.533},{"s":"21 days","w":7802,"f":0.517},{"s":"21 days","w":7928,"f":0.508},{"s":"21 days","w":8055,"f":0.485},{"s":"21 days","w":8139,"f":0.453},{"s":"21 days","w":8223,"f":0.437},{"s":"21 days","w":8307,"f":0.463},{"s":"21 days","w":8391,"f":0.501},{"s":"21 days","w":8476,"f":0.549},{"s":"21 days","w":8602,"f":0.572},{"s":"21 days","w":8728,"f":0.591},{"s":"21 days","w":8854,"f":0.566},{"s":"21 days","w":8981,"f":0.533},{"s":"21 days","w":9107,"f":0.508},{"s":"21 days","w":9275,"f":0.492},{"s":"21 days","w":9444,"f":0.479},{"s":"21 days","w":9612,"f":0.469},{"s":"21 days","w":9864,"f":0.460},{"s":"21 days","w":10075,"f":0.453},{"s":"21 days","w":10243,"f":0.453},
{"s":"27 days","w":1742,"f":0.196},{"s":"27 days","w":2037,"f":0.196},{"s":"27 days","w":2373,"f":0.206},{"s":"27 days","w":2626,"f":0.218},{"s":"27 days","w":2878,"f":0.225},{"s":"27 days","w":3131,"f":0.228},{"s":"27 days","w":3383,"f":0.238},{"s":"27 days","w":3510,"f":0.260},{"s":"27 days","w":3594,"f":0.276},{"s":"27 days","w":3653,"f":0.276},{"s":"27 days","w":3703,"f":0.324},{"s":"27 days","w":3737,"f":0.308},{"s":"27 days","w":3771,"f":0.276},{"s":"27 days","w":3821,"f":0.308},{"s":"27 days","w":3872,"f":0.347},{"s":"27 days","w":3922,"f":0.373},{"s":"27 days","w":3973,"f":0.389},{"s":"27 days","w":4015,"f":0.357},{"s":"27 days","w":4057,"f":0.324},{"s":"27 days","w":4099,"f":0.315},{"s":"27 days","w":4141,"f":0.315},{"s":"27 days","w":4183,"f":0.324},{"s":"27 days","w":4225,"f":0.334},{"s":"27 days","w":4267,"f":0.340},{"s":"27 days","w":4309,"f":0.340},{"s":"27 days","w":4351,"f":0.334},{"s":"27 days","w":4393,"f":0.308},{"s":"27 days","w":4436,"f":0.276},{"s":"27 days","w":4478,"f":0.292},{"s":"27 days","w":4520,"f":0.340},{"s":"27 days","w":4562,"f":0.437},{"s":"27 days","w":4604,"f":0.475},{"s":"27 days","w":4646,"f":0.453},{"s":"27 days","w":4688,"f":0.373},{"s":"27 days","w":4730,"f":0.308},{"s":"27 days","w":4772,"f":0.340},{"s":"27 days","w":4814,"f":0.340},{"s":"27 days","w":4856,"f":0.347},{"s":"27 days","w":4898,"f":0.405},{"s":"27 days","w":4932,"f":0.475},{"s":"27 days","w":4966,"f":0.421},{"s":"27 days","w":5008,"f":0.340},{"s":"27 days","w":5067,"f":0.308},{"s":"27 days","w":5109,"f":0.308},{"s":"27 days","w":5151,"f":0.340},{"s":"27 days","w":5193,"f":0.373},{"s":"27 days","w":5235,"f":0.389},{"s":"27 days","w":5277,"f":0.421},{"s":"27 days","w":5319,"f":0.437},{"s":"27 days","w":5345,"f":0.431},{"s":"27 days","w":5387,"f":0.501},{"s":"27 days","w":5429,"f":0.572},{"s":"27 days","w":5471,"f":0.581},{"s":"27 days","w":5513,"f":0.549},{"s":"27 days","w":5555,"f":0.501},{"s":"27 days","w":5589,"f":0.421},{"s":"27 days","w":5622,"f":0.373},{"s":"27 days","w":5656,"f":0.340},{"s":"27 days","w":5698,"f":0.379},{"s":"27 days","w":5740,"f":0.437},{"s":"27 days","w":5782,"f":0.469},{"s":"27 days","w":5824,"f":0.475},{"s":"27 days","w":5866,"f":0.453},{"s":"27 days","w":5909,"f":0.405},{"s":"27 days","w":5951,"f":0.373},{"s":"27 days","w":5993,"f":0.357},{"s":"27 days","w":6035,"f":0.366},{"s":"27 days","w":6077,"f":0.357},{"s":"27 days","w":6119,"f":0.340},{"s":"27 days","w":6161,"f":0.315},{"s":"27 days","w":6203,"f":0.324},{"s":"27 days","w":6245,"f":0.347},{"s":"27 days","w":6287,"f":0.379},{"s":"27 days","w":6329,"f":0.437},{"s":"27 days","w":6397,"f":0.501},{"s":"27 days","w":6464,"f":0.518},{"s":"27 days","w":6540,"f":0.485},{"s":"27 days","w":6599,"f":0.405},{"s":"27 days","w":6666,"f":0.340},{"s":"27 days","w":6750,"f":0.315},{"s":"27 days","w":6876,"f":0.308},{"s":"27 days","w":7003,"f":0.315},{"s":"27 days","w":7171,"f":0.324},{"s":"27 days","w":7255,"f":0.340},{"s":"27 days","w":7339,"f":0.334},{"s":"27 days","w":7423,"f":0.363},{"s":"27 days","w":7491,"f":0.324},{"s":"27 days","w":7550,"f":0.315},{"s":"27 days","w":7634,"f":0.347},{"s":"27 days","w":7718,"f":0.366},{"s":"27 days","w":7844,"f":0.340},{"s":"27 days","w":7971,"f":0.315},{"s":"27 days","w":8055,"f":0.292},{"s":"27 days","w":8139,"f":0.260},{"s":"27 days","w":8223,"f":0.228},{"s":"27 days","w":8307,"f":0.244},{"s":"27 days","w":8391,"f":0.292},{"s":"27 days","w":8476,"f":0.340},{"s":"27 days","w":8602,"f":0.363},{"s":"27 days","w":8728,"f":0.373},{"s":"27 days","w":8854,"f":0.357},{"s":"27 days","w":8981,"f":0.324},{"s":"27 days","w":9107,"f":0.308},{"s":"27 days","w":9275,"f":0.286},{"s":"27 days","w":9444,"f":0.283},{"s":"27 days","w":9570,"f":0.270},{"s":"27 days","w":9654,"f":0.276},{"s":"27 days","w":9780,"f":0.292},{"s":"27 days","w":9948,"f":0.292},{"s":"27 days","w":10075,"f":0.276},{"s":"27 days","w":10243,"f":0.260},
{"s":"41 days","w":1742,"f":0.003},{"s":"41 days","w":2205,"f":0.003},{"s":"41 days","w":2626,"f":0.006},{"s":"41 days","w":2963,"f":0.013},{"s":"41 days","w":3215,"f":0.019},{"s":"41 days","w":3383,"f":0.032},{"s":"41 days","w":3510,"f":0.045},{"s":"41 days","w":3594,"f":0.051},{"s":"41 days","w":3653,"f":0.058},{"s":"41 days","w":3703,"f":0.077},{"s":"41 days","w":3745,"f":0.067},{"s":"41 days","w":3787,"f":0.035},{"s":"41 days","w":3830,"f":0.051},{"s":"41 days","w":3872,"f":0.074},{"s":"41 days","w":3922,"f":0.090},{"s":"41 days","w":3973,"f":0.109},{"s":"41 days","w":4015,"f":0.084},{"s":"41 days","w":4057,"f":0.067},{"s":"41 days","w":4099,"f":0.058},{"s":"41 days","w":4141,"f":0.058},{"s":"41 days","w":4183,"f":0.067},{"s":"41 days","w":4225,"f":0.074},{"s":"41 days","w":4267,"f":0.077},{"s":"41 days","w":4309,"f":0.067},{"s":"41 days","w":4351,"f":0.045},{"s":"41 days","w":4393,"f":0.058},{"s":"41 days","w":4436,"f":0.084},{"s":"41 days","w":4478,"f":0.058},{"s":"41 days","w":4520,"f":0.051},{"s":"41 days","w":4562,"f":0.099},{"s":"41 days","w":4604,"f":0.141},{"s":"41 days","w":4646,"f":0.148},{"s":"41 days","w":4688,"f":0.116},{"s":"41 days","w":4730,"f":0.067},{"s":"41 days","w":4772,"f":0.051},{"s":"41 days","w":4814,"f":0.077},{"s":"41 days","w":4856,"f":0.084},{"s":"41 days","w":4898,"f":0.099},{"s":"41 days","w":4932,"f":0.132},{"s":"41 days","w":4966,"f":0.099},{"s":"41 days","w":5008,"f":0.067},{"s":"41 days","w":5067,"f":0.058},{"s":"41 days","w":5134,"f":0.058},{"s":"41 days","w":5193,"f":0.067},{"s":"41 days","w":5235,"f":0.084},{"s":"41 days","w":5277,"f":0.093},{"s":"41 days","w":5319,"f":0.099},{"s":"41 days","w":5361,"f":0.116},{"s":"41 days","w":5403,"f":0.141},{"s":"41 days","w":5446,"f":0.173},{"s":"41 days","w":5488,"f":0.190},{"s":"41 days","w":5530,"f":0.164},{"s":"41 days","w":5572,"f":0.132},{"s":"41 days","w":5622,"f":0.099},{"s":"41 days","w":5673,"f":0.099},{"s":"41 days","w":5723,"f":0.125},{"s":"41 days","w":5782,"f":0.148},{"s":"41 days","w":5824,"f":0.148},{"s":"41 days","w":5866,"f":0.122},{"s":"41 days","w":5909,"f":0.099},{"s":"41 days","w":5959,"f":0.084},{"s":"41 days","w":6009,"f":0.077},{"s":"41 days","w":6060,"f":0.084},{"s":"41 days","w":6110,"f":0.077},{"s":"41 days","w":6144,"f":0.067},{"s":"41 days","w":6178,"f":0.077},{"s":"41 days","w":6220,"f":0.084},{"s":"41 days","w":6262,"f":0.077},{"s":"41 days","w":6313,"f":0.084},{"s":"41 days","w":6371,"f":0.116},{"s":"41 days","w":6430,"f":0.141},{"s":"41 days","w":6498,"f":0.148},{"s":"41 days","w":6565,"f":0.122},{"s":"41 days","w":6624,"f":0.084},{"s":"41 days","w":6708,"f":0.061},{"s":"41 days","w":6834,"f":0.051},{"s":"41 days","w":7003,"f":0.058},{"s":"41 days","w":7171,"f":0.060},{"s":"41 days","w":7297,"f":0.077},{"s":"41 days","w":7423,"f":0.084},{"s":"41 days","w":7491,"f":0.077},{"s":"41 days","w":7550,"f":0.058},{"s":"41 days","w":7634,"f":0.077},{"s":"41 days","w":7718,"f":0.090},{"s":"41 days","w":7844,"f":0.084},{"s":"41 days","w":7971,"f":0.061},{"s":"41 days","w":8097,"f":0.051},{"s":"41 days","w":8181,"f":0.019},{"s":"41 days","w":8265,"f":0.013},{"s":"41 days","w":8349,"f":0.026},{"s":"41 days","w":8433,"f":0.051},{"s":"41 days","w":8560,"f":0.067},{"s":"41 days","w":8728,"f":0.084},{"s":"41 days","w":8854,"f":0.077},{"s":"41 days","w":9023,"f":0.064},{"s":"41 days","w":9191,"f":0.061},{"s":"41 days","w":9359,"f":0.058},{"s":"41 days","w":9528,"f":0.051},{"s":"41 days","w":9696,"f":0.045},{"s":"41 days","w":9780,"f":0.051},{"s":"41 days","w":9864,"f":0.074},{"s":"41 days","w":9948,"f":0.084},{"s":"41 days","w":10075,"f":0.067},{"s":"41 days","w":10243,"f":0.058}
]
},
"hconcat": [
{
"width": 409, "height": 530,
"layer": [
{"data": {"name": "bands"}, "mark": {"type": "rect", "color": "#e5e5e5"},
 "encoding": {"x": {"field": "a", "type": "quantitative", "scale": {"domain": [1700, 12000], "nice": false, "zero": false}, "axis": {"title": "Wavelength [Angstrom]", "values": [2000,4000,6000,8000,10000,12000], "format": "d", "labelFlush": false}}, "x2": {"field": "b"}}},
{"data": {"name": "left"}, "mark": {"type": "line", "strokeWidth": 1.9},
 "encoding": {
  "x": {"field": "w", "type": "quantitative", "scale": {"domain": [1700, 12000], "nice": false, "zero": false}, "axis": {"title": "Wavelength [Angstrom]", "values": [2000,4000,6000,8000,10000,12000], "format": "d", "labelFlush": false}},
  "y": {"field": "f", "type": "quantitative", "scale": {"domain": [-0.237, 4.975], "nice": false, "zero": false}, "axis": {"title": null, "labels": false, "values": [0,1,2,3,4]}},
  "color": {"field": "s", "type": "nominal", "scale": {"domain": ["-13 days","-10 days","-7 days","-3 days","0 days"], "range": ["#1f77b4","#ff7f0e","#2ca02c","#d62728","#9467bd"]}, "legend": {"title": null}}
 }}
]
},
{
"width": 408, "height": 530,
"layer": [
{"data": {"name": "bands"}, "mark": {"type": "rect", "color": "#e5e5e5"},
 "encoding": {"x": {"field": "a", "type": "quantitative", "scale": {"domain": [1700, 12000], "nice": false, "zero": false}, "axis": {"title": "Wavelength [Angstrom]", "values": [2000,4000,6000,8000,10000,12000], "format": "d", "labelFlush": false}}, "x2": {"field": "b"}}},
{"data": {"name": "right"}, "mark": {"type": "line", "strokeWidth": 1.9},
 "encoding": {
  "x": {"field": "w", "type": "quantitative", "scale": {"domain": [1700, 12000], "nice": false, "zero": false}, "axis": {"title": "Wavelength [Angstrom]", "values": [2000,4000,6000,8000,10000,12000], "format": "d", "labelFlush": false}},
  "y": {"field": "f", "type": "quantitative", "scale": {"domain": [-0.232, 4.875], "nice": false, "zero": false}, "axis": {"title": null, "labels": false, "values": [0,1,2,3,4]}},
  "color": {"field": "s", "type": "nominal", "scale": {"domain": ["41 days","27 days","21 days","9 days","3 days","0 days"], "range": ["#17becf","#bcbd22","#7f7f7f","#e377c2","#8c564b","#9467bd"]}, "legend": {"title": null}}
 }}
]
}
],
"resolve": {"scale": {"color": "independent", "x": "independent", "y": "independent"}, "legend": {"color": "independent"}},
"config": {
 "view": {"stroke": "black", "strokeWidth": 1},
 "axis": {"labelFont": "DejaVu Serif", "labelFontSize": 17, "labelColor": "black", "titleFont": "DejaVu Serif", "titleFontSize": 17, "titleFontWeight": "normal", "titleColor": "black", "tickColor": "black", "tickSize": 5, "tickWidth": 1, "domain": false, "grid": false, "labelPadding": 2, "titlePadding": 5},
 "legend": {"orient": "top-right", "offset": 9, "fillColor": "rgba(255,255,255,0.8)", "strokeColor": "#cccccc", "cornerRadius": 3, "padding": 6, "labelFont": "DejaVu Serif", "labelFontSize": 17, "labelColor": "black", "symbolType": "stroke", "symbolSize": 1225, "symbolStrokeWidth": 2, "clipHeight": 17, "labelOffset": 13, "rowPadding": 7.4}
}
}
